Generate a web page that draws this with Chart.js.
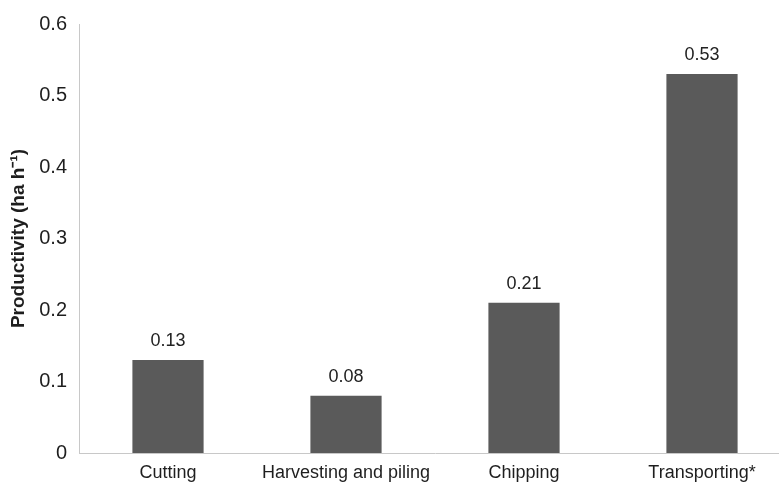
<!DOCTYPE html>
<html>
<head>
<meta charset="utf-8">
<title>Productivity by operation</title>
<script src="https://cdn.jsdelivr.net/npm/chart.js@4.4.1/dist/chart.umd.min.js"></script>
<style>
  html, body { margin: 0; padding: 0; background: #fff; overflow: hidden; }
</style>
</head>
<body>
<canvas id="productivityChart" width="791" height="488"></canvas>
<script>
// Operations and their productivity (ha h-1)
const operations = ['Cutting', 'Harvesting and piling', 'Chipping', 'Transporting*'];
const productivity = [0.13, 0.08, 0.21, 0.53];
const yTicks = [0, 0.1, 0.2, 0.3, 0.4, 0.5, 0.6];

const FONT = '"Liberation Sans", Arial, sans-serif';

// Writes the value above every bar
const valueLabels = {
    id: 'valueLabels',
    afterDatasetsDraw(chart) {
        const ctx = chart.ctx;
        const meta = chart.getDatasetMeta(0);
        ctx.save();
        ctx.font = '18px ' + FONT;
        ctx.fillStyle = '#222';
        ctx.textAlign = 'center';
        ctx.textBaseline = 'alphabetic';
        meta.data.forEach((bar, i) => {
            ctx.fillText(productivity[i].toFixed(2), bar.x, bar.y - 14);
        });
        ctx.restore();
    }
};

new Chart(document.getElementById('productivityChart'), {
    type: 'bar',
    data: {
        labels: operations,
        datasets: [{
            data: productivity,
            backgroundColor: '#5a5a5a',
            barPercentage: 0.4,
            categoryPercentage: 1.0
        }]
    },
    options: {
        responsive: false,
        animation: false,
        layout: { padding: { top: 11, right: 0, bottom: 0, left: 0 } },
        plugins: {
            legend: { display: false },
            tooltip: { enabled: false }
        },
        scales: {
            x: {
                grid: { display: false, drawTicks: false },
                border: { color: '#c8c8c8', width: 1 },
                ticks: {
                    color: '#1e1e1e',
                    font: { family: FONT, size: 18 },
                    padding: 9,
                    maxRotation: 0
                },
                afterFit: s => { s.height = 35; }
            },
            y: {
                min: 0,
                max: 0.6,
                grid: { display: false, drawTicks: false },
                border: { color: '#c8c8c8', width: 1 },
                afterBuildTicks: s => { s.ticks = yTicks.map(v => ({ value: v })); },
                ticks: {
                    color: '#1e1e1e',
                    font: { family: FONT, size: 20 },
                    padding: 12,
                    callback: v => String(v)
                },
                title: {
                    display: true,
                    text: 'Productivity (ha h\u207B\u00B9)',
                    color: '#1e1e1e',
                    font: { family: FONT, size: 19, weight: 'bold' },
                    padding: { top: 7, bottom: 0 }
                },
                afterFit: s => { s.width = 79; }
            }
        }
    },
    plugins: [valueLabels]
});
</script>
</body>
</html>
